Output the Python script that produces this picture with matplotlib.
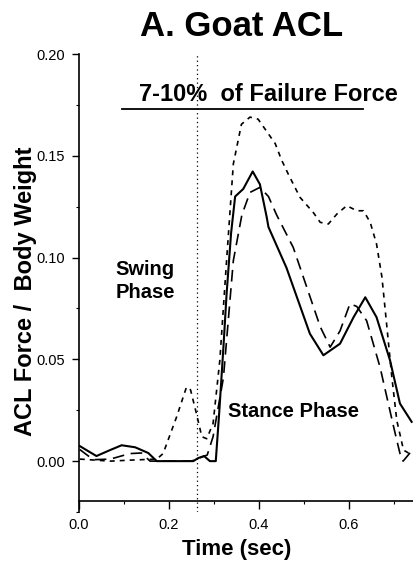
import matplotlib
matplotlib.use('Agg')
import matplotlib.pyplot as plt
from matplotlib.ticker import MultipleLocator

# Solid curve (time in sec, force / body weight)
solid_t = [0.002, 0.02, 0.039, 0.07, 0.095, 0.125, 0.154, 0.173, 0.254, 0.265, 0.278, 0.291, 0.304,
           0.312, 0.321, 0.328, 0.338, 0.347, 0.365, 0.386, 0.402, 0.417, 0.421, 0.461, 0.513,
           0.543, 0.58, 0.61, 0.636, 0.661, 0.691, 0.713, 0.739]
solid_f = [0.0074, 0.005, 0.0025, 0.0055, 0.0078, 0.0068, 0.004, 0.0, 0.0, 0.0015, 0.0025, 0.0, 0.0,
           0.025, 0.056, 0.082, 0.112, 0.130, 0.1337, 0.1423, 0.136, 0.12, 0.115, 0.095, 0.0626,
           0.052, 0.0577, 0.0707, 0.0805, 0.0707, 0.0495, 0.0283, 0.0193]

# Long-dashed curve
long_t = [0.002, 0.032, 0.07, 0.113, 0.139, 0.158, 0.25, 0.285, 0.298, 0.321, 0.343, 0.362,
          0.38, 0.402, 0.421, 0.439, 0.476, 0.506, 0.536, 0.558, 0.58, 0.602, 0.617,
          0.639, 0.669, 0.699, 0.713, 0.72, 0.739]
long_f = [0.0057, 0.0007, 0.001, 0.0037, 0.004, 0.0, 0.0, 0.003, 0.012, 0.041, 0.0985, 0.121,
          0.132, 0.1345, 0.13, 0.121, 0.105, 0.0855, 0.066, 0.056, 0.064, 0.0773, 0.076,
          0.069, 0.046, 0.0168, 0.0038, 0.0, 0.005]

# Short-dashed curve
short_t = [0.002, 0.07, 0.115, 0.173, 0.187, 0.217, 0.239, 0.248, 0.261, 0.273, 0.284, 0.298,
           0.313, 0.328, 0.343, 0.361, 0.38, 0.398, 0.417, 0.436, 0.45, 0.465, 0.491, 0.521,
           0.536, 0.554, 0.573, 0.595, 0.617, 0.632, 0.647, 0.661, 0.673, 0.684, 0.695,
           0.706, 0.721, 0.732, 0.739]
short_f = [0.001, 0.0, 0.0005, 0.001, 0.0037, 0.0217, 0.0364, 0.035, 0.0234, 0.012, 0.011, 0.0185,
           0.0495, 0.0985, 0.146, 0.1655, 0.169, 0.168, 0.162, 0.156, 0.148, 0.141, 0.1296, 0.122,
           0.1173, 0.1165, 0.1214, 0.1255, 0.123, 0.123, 0.1173, 0.1067, 0.0904, 0.066, 0.0413,
           0.020, 0.0054, 0.004, 0.0044]

xticks = [0.0, 0.2, 0.4, 0.6]
xtick_labels = ['0.0', '0.2', '0.4', '0.6']
yticks = [0.00, 0.05, 0.10, 0.15, 0.20]
ytick_labels = ['0.00', '0.05', '0.10', '0.15', '0.20']

heel_strike = 0.262

plt.rcParams['font.family'] = ['Liberation Sans', 'DejaVu Sans']

fig = plt.figure(figsize=(4.13, 5.71), dpi=100)
ax = fig.add_axes([0.191, 0.1033, 0.809, 0.8021])

ax.plot(solid_t, solid_f, color='black', linewidth=1.5)
ax.plot(long_t, long_f, color='black', linewidth=1.2, dashes=(7, 4))
ax.plot(short_t, short_f, color='black', linewidth=1.2, dashes=(3, 3))
ax.axvline(heel_strike, color='black', linewidth=0.9, linestyle=(0, (1, 2.5)))

# failure force bar
ax.plot([0.096, 0.631], [0.173, 0.173], color='black', linewidth=1.3)
ax.text(0.42, 0.177, '7-10%  of Failure Force', ha='center', va='baseline',
        fontsize=17, fontweight='bold')
ax.text(0.147, 0.0912, 'Swing', ha='center', va='baseline', fontsize=14.5, fontweight='bold')
ax.text(0.147, 0.0799, 'Phase', ha='center', va='baseline', fontsize=14.5, fontweight='bold')
ax.text(0.476, 0.0217, 'Stance Phase', ha='center', va='baseline',
        fontsize=14.5, fontweight='bold')

ax.set_xlim(0, 0.742)
ax.set_ylim(-0.025, 0.20)
ax.spines['bottom'].set_position(('data', -0.0196))
ax.set_xticks(xticks)
ax.set_xticklabels(xtick_labels, fontsize=10.5)
ax.set_yticks(yticks)
ax.set_yticklabels(ytick_labels, fontsize=10.5)
ax.xaxis.set_minor_locator(MultipleLocator(0.1))
ax.yaxis.set_minor_locator(MultipleLocator(0.025))
ax.tick_params(which='major', length=5, width=1, pad=5)
ax.tick_params(axis='x', which='major', length=6, pad=6)
ax.tick_params(which='minor', length=2.5, width=0.8)
for side in ['top', 'right']:
    ax.spines[side].set_visible(False)
ax.spines['left'].set_linewidth(1.2)
ax.spines['bottom'].set_linewidth(1.2)

fig.text(26 / 413, 1 - 291 / 571, 'ACL Force /  Body Weight', rotation=90,
         ha='center', va='center', fontsize=17, fontweight='bold')
fig.text(237 / 413, 1 - 550 / 571, 'Time (sec)', ha='center', va='center',
         fontsize=16, fontweight='bold')
fig.text(242 / 413, 1 - 26 / 571, 'A. Goat ACL', ha='center', va='center',
         fontsize=25, fontweight='bold')

plt.savefig('out.png', dpi=100)
